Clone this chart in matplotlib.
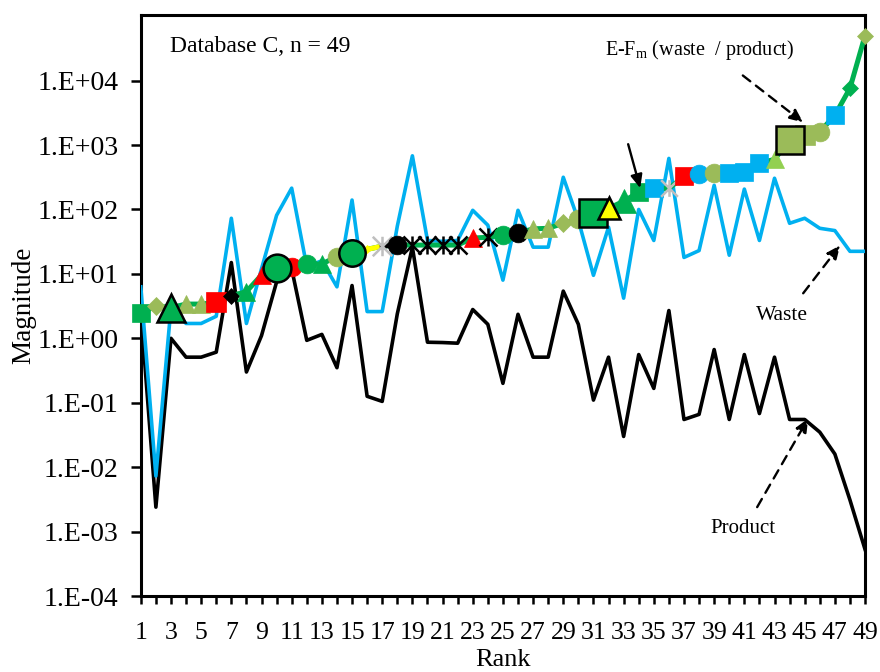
import numpy as np
import matplotlib
matplotlib.use("Agg")
import matplotlib.pyplot as plt
from matplotlib.path import Path
from matplotlib.ticker import FixedLocator, FuncFormatter

plt.rcParams['font.family'] = ['Liberation Serif', 'DejaVu Serif']
plt.rcParams['mathtext.fontset'] = 'custom'
plt.rcParams['mathtext.rm'] = 'Liberation Serif'
plt.rcParams['mathtext.it'] = 'Liberation Serif:italic'

# ---------------- data ----------------
ranks = list(range(1, 50))

product = [2.6, 0.0024, 1.0, 0.51, 0.51, 0.61, 15, 0.30, 1.1, 7.5,
           12, 0.93, 1.15, 0.35, 6.6, 0.126, 0.105, 2.4, 26, 0.87,
           0.86, 0.84, 2.8, 1.65, 0.20, 2.36, 0.51, 0.51, 5.4, 1.65,
           0.11, 0.51, 0.030, 0.56, 0.167, 2.7, 0.055, 0.066, 0.67, 0.055,
           0.56, 0.068, 0.51, 0.055, 0.055, 0.035, 0.016, 0.0031, 0.00053]

waste = [6.3, 0.0073, 3.0, 1.7, 1.7, 2.2, 73, 1.7, 12, 81,
         214, 13, 16, 6.3, 140, 2.6, 2.6, 55, 680, 33,
         32, 33, 97, 57, 8, 97, 26, 26, 316, 68,
         9.5, 53, 4.2, 100, 33, 620, 18, 23, 237, 19.5,
         207, 33, 305, 61, 73, 51, 47, 22.4, 22.4]

efm = [2.45, 3.2, 3.0, 3.4, 3.4, 3.6, 4.6, 5.3, 9.6, 12.2,
       12.7, 14, 14.3, 18.5, 21, 24, 27, 28, 28, 28,
       28, 28, 36, 37, 40, 43, 50, 51, 61, 70,
       87, 104, 134, 185, 212, 212, 325, 350, 365, 365,
       380, 520, 600, 1190, 1420, 1600, 2900, 7600, 50000]

xtick_labels = [str(r) for r in range(1, 50, 2)]
ytick_exponents = list(range(-4, 5))

# ---------------- styles ----------------
G = '#00B050'; O = '#9BBB59'; R = '#FF0000'; B = '#00B0F0'
K = '#000000'; Y = '#FFFF00'; LG = '#92D050'; GR = '#BFBFBF'

ast = Path([(0, -1), (0, 1), (-1, -1), (1, 1), (-1, 1), (1, -1)],
           [Path.MOVETO, Path.LINETO, Path.MOVETO, Path.LINETO,
            Path.MOVETO, Path.LINETO])

N = 13.5   # normal marker size
BIG = 20   # big outlined marker size
DM = 9.5   # diamond size
# (marker, color, size, black edge)
styles = [
    ('s', G, N, False), ('D', O, DM, False), ('^', G, BIG, True),
    ('^', O, N, False), ('^', O, N, False), ('s', R, N + 1, False),
    ('D', K, DM - 1, False), ('^', G, N, False), ('^', R, N, False),
    ('o', G, BIG, True), ('o', R, N, False), ('o', G, N, False),
    ('^', G, N, False), ('o', O, N, False), ('o', G, BIG - 1, True),
    ('D', Y, 4.5, False), (ast, GR, 14, False), ('o', K, N, False),
    (ast, K, 13, False), (ast, K, 13, False), (ast, K, 13, False),
    (ast, K, 13, False), ('^', R, N, False), (ast, K, 13, False),
    ('o', G, N, False), ('o', K, N, False), ('^', O, N, False),
    ('^', O, N, False), ('D', O, DM, False), ('o', O, N, False),
    ('s', G, BIG, True), ('^', Y, 16, True), ('^', G, 17, False),
    ('s', G, N, False), ('s', B, N, False), (ast, GR, 12, False),
    ('s', R, N, False), ('o', B, N, False), ('o', O, N, False),
    ('s', B, N, False), ('s', B, N, False), ('s', B, N, False),
    ('^', LG, N, False), ('s', O, BIG, True), ('s', O, 15, False),
    ('o', O, N, False), ('s', B, N, False), ('D', G, DM - 1, False),
    ('D', O, DM - 1, False),
]

seg_colors = {15: Y, 16: Y, 17: K}  # segment from rank i to i+1

# ---------------- figure ----------------
fig = plt.figure(figsize=(8.8, 6.72), dpi=100)
ax = fig.add_axes([0.160, 0.113, 0.823, 0.865])

ax.plot(ranks, product, color='black', lw=2.6, zorder=2)
ax.plot(ranks, waste, color=B, lw=2.6, zorder=3)
ax.plot(ranks, efm, color=G, lw=3.6, zorder=4)
for i, c in seg_colors.items():
    ax.plot(ranks[i-1:i+1], efm[i-1:i+1], color=c, lw=3.6, zorder=4.5)

for r, v, (m, c, s, edge) in zip(ranks, efm, styles):
    if m is ast:
        ax.plot([r], [v], marker=m, markersize=s, markeredgecolor=c,
                markerfacecolor='none', markeredgewidth=1.8,
                linestyle='none', zorder=5, clip_on=False)
    else:
        ax.plot([r], [v], marker=m, markersize=s, markerfacecolor=c,
                markeredgecolor='black' if edge else c,
                markeredgewidth=1.8 if edge else 0.5,
                linestyle='none', zorder=6 if edge else 5, clip_on=False)

ax.set_yscale('log')
ax.set_ylim(1e-4, 1.05e5)
ax.set_xlim(1, 49)

ax.yaxis.set_major_locator(FixedLocator([10.0**e for e in ytick_exponents]))
ax.yaxis.set_minor_locator(FixedLocator([]))
ax.yaxis.set_major_formatter(FuncFormatter(
    lambda v, p: "1.E%+03d" % int(round(np.log10(v)))))
ax.xaxis.set_major_locator(FixedLocator(list(range(1, 50, 2))))
ax.set_xticklabels(xtick_labels)
ax.xaxis.set_minor_locator(FixedLocator(list(range(2, 50, 2))))

for sp in ax.spines.values():
    sp.set_linewidth(2.2)
    sp.set_color('black')
ax.tick_params(axis='both', which='both', direction='out', width=1.8,
               colors='black')
ax.tick_params(axis='y', length=7, pad=9, labelsize=20)
ax.tick_params(axis='x', which='both', length=6, pad=13, labelsize=18.5)

ax.set_xlabel('Rank', fontsize=19, labelpad=3)
ax.set_ylabel('Magnitude', fontsize=19.5, labelpad=1)

ax.text(0.040, 0.945, 'Database C, n = 49', transform=ax.transAxes,
        fontsize=17, ha='left', va='center')
ax.text(0.772, 0.940, r'E-F$_\mathrm{m}$ (waste  / product)',
        transform=ax.transAxes, fontsize=14.5, ha='center', va='center')
ax.text(0.885, 0.482, 'Waste', transform=ax.transAxes,
        fontsize=15.5, ha='center', va='center')
ax.text(0.831, 0.117, 'Product', transform=ax.transAxes,
        fontsize=15, ha='center', va='center')

dash = dict(arrowstyle='-|>,head_length=0.8,head_width=0.35', color='black',
            lw=1.7, linestyle=(0, (4, 3)), shrinkA=0, shrinkB=0)
solid = dict(arrowstyle='-|>,head_length=0.8,head_width=0.35', color='black',
             lw=1.7, shrinkA=0, shrinkB=0)
ax.annotate('', xy=(44.9, 2240), xytext=(40.9, 12000), arrowprops=dash, zorder=7)
ax.annotate('', xy=(34.1, 214), xytext=(33.3, 1030), arrowprops=solid, zorder=7)
ax.annotate('', xy=(47.35, 27.8), xytext=(44.9, 5.0), arrowprops=dash, zorder=7)
ax.annotate('', xy=(45.23, 0.057), xytext=(41.85, 0.0024), arrowprops=dash, zorder=7)

fig.savefig('out.png', dpi=100)
